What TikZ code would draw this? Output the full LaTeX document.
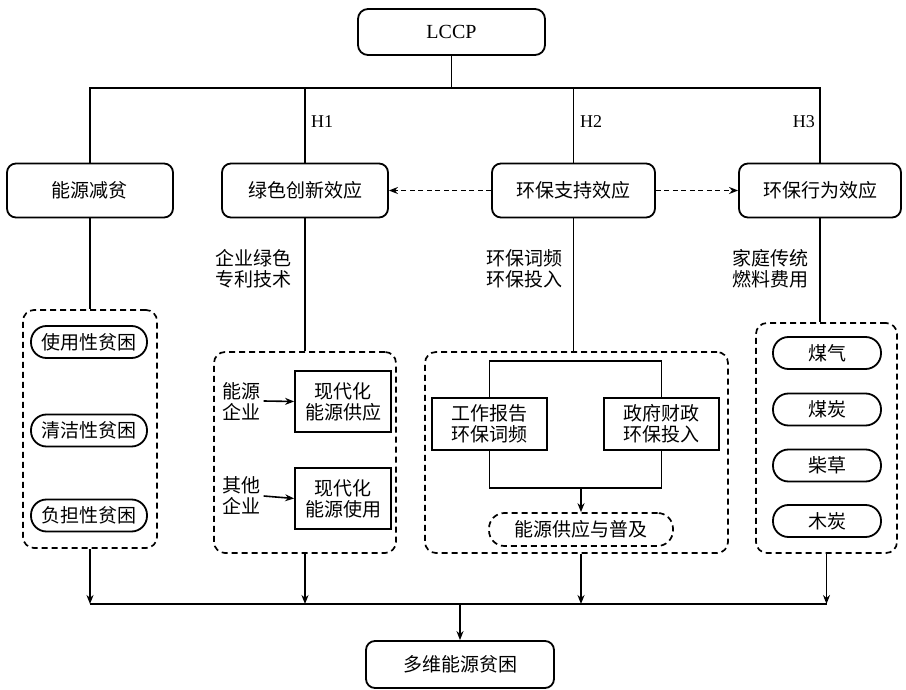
\documentclass[tikz,border=0pt]{standalone}
\usepackage{fontspec}
\setmainfont{Liberation Serif}
\newfontfamily\cjk{Noto Sans CJK SC}
\usetikzlibrary{arrows.meta,calc}
\begin{document}
\begin{tikzpicture}[x=1pt,y=-1pt,
  cn/.style={font=\cjk\fontsize{19}{21}\selectfont},
  rbox/.style={cn,draw,line width=1.8pt,rounded corners=9pt,inner sep=0pt,minimum height=54pt},
  sbox/.style={cn,draw,line width=1.8pt,inner sep=0pt,align=center},
  grp/.style={draw,line width=1.7pt,dash pattern=on 6pt off 4pt,rounded corners=11pt,inner sep=0pt},
  pill/.style={cn,draw,line width=1.8pt,rounded corners=15.5pt,inner sep=0pt,minimum height=32pt},
  lbl/.style={cn,align=left,inner sep=0pt},
  conn/.style={line width=1.6pt},
  arr/.style={line width=1.6pt,-{Stealth[length=9pt,width=7pt]}},
  darr/.style={line width=1.7pt,dash pattern=on 5pt off 3.5pt,-{Stealth[length=9pt,width=7pt]}},
  hl/.style={font=\fontsize{18}{20}\selectfont,inner sep=0pt}]
\useasboundingbox (0,0) rectangle (906,690);

% top
\node[draw,line width=1.8pt,rounded corners=10pt,minimum width=187pt,minimum height=46pt,inner sep=0pt,font=\fontsize{20}{22}\selectfont] (lccp) at (451.5,32) {LCCP};
\node[rbox,minimum width=166pt] (b1) at (90,190.5) {能源减贫};
\node[rbox,minimum width=166pt] (b2) at (305,190.5) {绿色创新效应};
\node[rbox,minimum width=163pt] (b3) at (573.5,190.5) {环保支持效应};
\node[rbox,minimum width=162pt] (b4) at (820,190.5) {环保行为效应};

\coordinate (j) at (451.5,88);
\draw[conn] (lccp.south) -- (j);
\draw[conn] (b1.north) -- (b1.north |- j) -- (b4.north |- j) -- (b4.north);
\draw[conn] (b2.north) -- (b2.north |- j);
\draw[conn] (b3.north) -- (b3.north |- j);

\node[hl,anchor=west] (h1) at (311,122) {H1};
\node[hl,anchor=west] (h2) at (580,122) {H2};
\node[hl,anchor=east] (h3) at (815,122) {H3};

\draw[darr] (b3.west) -- (b2.east);
\draw[darr] (b3.east) -- (b4.west);

% group 1
\node[grp,minimum width=134pt,minimum height=238pt] (d1) at (90,429) {};
\draw[conn] (b1.south) -- (d1.north);
\node[pill,minimum width=116pt] (p1) at (89,342) {使用性贫困};
\node[pill,minimum width=116pt] (p2) at (89,430.5) {清洁性贫困};
\node[pill,minimum width=116pt] (p3) at (89,515.5) {负担性贫困};

% group 2
\node[lbl] (t2) at (253.5,268.5) {企业绿色\\专利技术};
\node[grp,minimum width=182pt,minimum height=201pt] (d2) at (305,452.5) {};
\draw[conn] (b2.south) -- (d2.north);
\node[lbl] (e1) at (241.5,401) {能源\\企业};
\node[lbl] (e2) at (241.5,496) {其他\\企业};
\node[sbox,minimum width=96pt,minimum height=61pt] (m1) at (343,401.5) {现代化\\能源供应};
\node[sbox,minimum width=96pt,minimum height=61pt] (m2) at (343,498.5) {现代化\\能源使用};
\draw[arr] (e1.east) ++(3,0) -- (m1.west);
\draw[arr] (e2.east) ++(3,0) -- (m2.west);

% group 3
\node[lbl] (t3) at (524,268.5) {环保词频\\环保投入};
\node[grp,minimum width=303pt,minimum height=201pt] (d3) at (576.5,452.5) {};
\draw[conn] (b3.south) -- (b3.south |- d3.north);
\node[sbox,minimum width=115pt,minimum height=52pt] (w1) at (489.5,424) {工作报告\\环保词频};
\node[sbox,minimum width=115pt,minimum height=52pt] (w2) at (661.5,424) {政府财政\\环保投入};
\draw[conn] (w1.north) -- ++(0,-36) -| (w2.north);
\draw[conn] (w1.south) -- ++(0,37) coordinate (fb) -| (w2.south);
\node[pill,dash pattern=on 6pt off 4pt,line width=1.7pt,minimum width=184pt,minimum height=33pt] (q) at (581,529.5) {能源供应与普及};
\draw[arr] (q.north |- fb) -- (q.north);

% group 4
\node[lbl] (t4) at (770,268.5) {家庭传统\\燃料费用};
\node[grp,minimum width=141pt,minimum height=230pt] (d4) at (826.5,438) {};
\draw[conn] (b4.south) -- (b4.south |- d4.north);
\node[pill,minimum width=108pt] (f1) at (827,353) {煤气};
\node[pill,minimum width=108pt] (f2) at (827,409.5) {煤炭};
\node[pill,minimum width=108pt] (f3) at (827,465.5) {柴草};
\node[pill,minimum width=108pt] (f4) at (827,521) {木炭};

% bottom
\coordinate (bar) at (0,604);
\node[rbox,minimum width=188pt,minimum height=47pt] (fin) at (460,664.5) {多维能源贫困};
\draw[arr] (d1.south) -- (d1.south |- bar);
\draw[arr] (d2.south) -- (d2.south |- bar);
\draw[arr] (q.south |- d3.south) -- (q.south |- bar);
\draw[arr] (d4.south) -- (d4.south |- bar);
\draw[conn] (d1.south |- bar) -- (d4.south |- bar);
\draw[arr] (fin.north |- bar) -- (fin.north);
\end{tikzpicture}
\end{document}
